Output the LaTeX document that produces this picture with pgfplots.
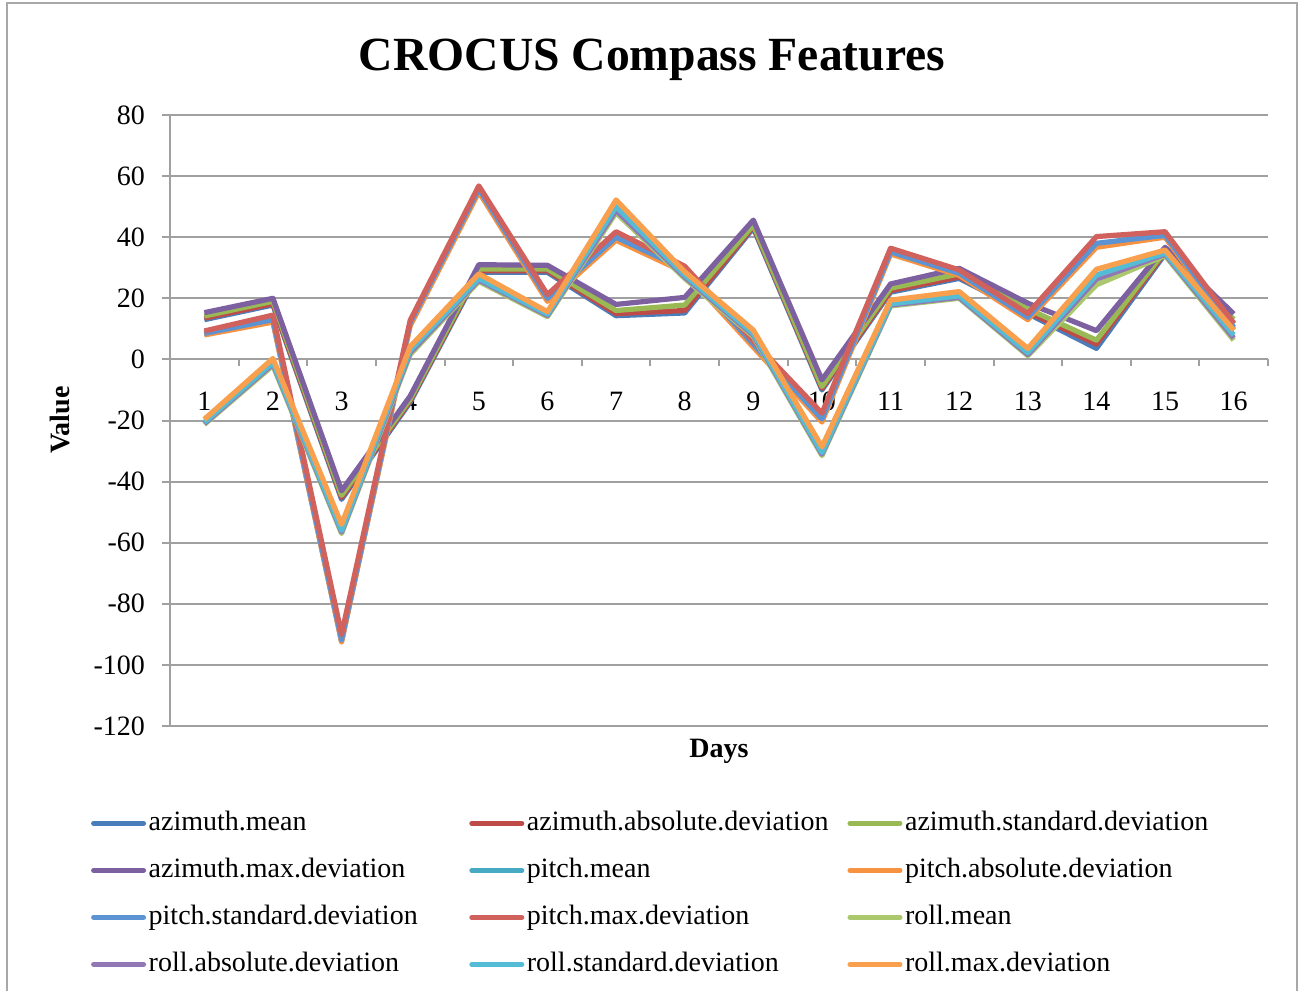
\documentclass[border=0pt]{standalone}
\usepackage{pgfplots}
\pgfplotsset{compat=1.18}
\usepackage{pgfplotstable}
\usepackage{fontspec}
\setmainfont{Liberation Serif}

\definecolor{gridgray}{HTML}{A0A0A0}
\definecolor{frame}{HTML}{A8A8A8}
\definecolor{s1}{HTML}{4A7EBB}
\definecolor{s2}{HTML}{BE4B48}
\definecolor{s3}{HTML}{98B954}
\definecolor{s4}{HTML}{7D60A0}
\definecolor{s5}{HTML}{46AAC5}
\definecolor{s6}{HTML}{F69240}
\definecolor{s7}{HTML}{5B93D3}
\definecolor{s8}{HTML}{D0615D}
\definecolor{s9}{HTML}{ABC86D}
\definecolor{s10}{HTML}{9277B5}
\definecolor{s11}{HTML}{55BCD5}
\definecolor{s12}{HTML}{F9A04F}

% day, azimuth (mean, abs, std, max), pitch (...), roll (...)
\pgfplotstableread{
day amean aabs astd amax pmean pabs pstd pmax rmean rabs rstd rmax
1  13.0 13.5 14.2 15.3   8.2   8.0   8.5   9.3  -21.3 -21.0 -20.6 -19.6
2  17.8 18.2 19.0 20.0  12.5  12.2  13.0  14.5   -2.0  -1.5  -1.0   0.3
3 -45.8 -45.2 -44.5 -43.0 -92.2 -92.5 -91.8 -90.0 -57.0 -56.5 -56.0 -54.0
4 -14.0 -13.5 -13.0 -12.0 11.5  11.0  12.0  12.8    1.6   2.2   3.0   4.2
5  28.5 29.0 29.6 31.0  55.2  54.8  55.8  56.8   25.5  26.0  26.5  28.0
6  28.5 29.0 29.6 30.8  19.5  19.0  20.0  21.2   14.0  14.4  14.8  15.6
7  14.3 15.0 16.0 18.0  39.5  39.0  40.0  41.8   48.0  48.8  50.0  52.2
8  15.2 16.0 17.8 20.3  29.0  28.5  29.5  30.5   26.5  27.0  27.6  28.7
9  43.0 43.5 44.0 45.6   4.5   4.0   5.0   6.0    7.5   8.0   8.5   9.6
10 -10.0 -9.5 -8.9 -6.7 -20.0 -20.5 -19.5 -17.6 -31.5 -31.0 -30.5 -28.6
11 22.0 22.5 23.3 24.7  34.8  34.5  35.2  36.4   17.5  17.8  18.2  19.4
12 26.5 27.0 28.0 29.8  27.8  27.5  28.2  29.3   20.0  20.3  20.8  22.2
13 15.0 15.5 16.5 18.4  13.4  13.0  13.8  15.0    1.2   1.6   2.2   3.6
14  3.6  5.0  6.3  9.4  37.2  36.7  38.0  40.2   24.4  26.3  27.6  29.5
15 34.5 35.0 35.5 36.7  40.2  40.0  40.6  41.8   34.0  34.4  34.8  35.8
16 11.5 12.0 13.1 14.9  10.0   9.5  10.5  11.8    6.3   7.0   8.0   9.6
}\crocus

\newcommand{\legtext}[1]{\makebox[159pt][l]{#1}}

\begin{document}
\begin{tikzpicture}
\useasboundingbox (0,0) rectangle (652pt,495.5pt);
\draw[frame, line width=1pt] (3.5pt,0) -- (3.5pt,494pt) -- (648.5pt,494pt) -- (648.5pt,0);
\begin{axis}[
  at={(85pt,132.5pt)}, anchor=south west,
  scale only axis, width=549pt, height=305.5pt,
  xmin=0.5, xmax=16.5, ymin=-120, ymax=80,
  axis x line=middle, axis y line=left,
  axis line style={-, draw=gridgray, line width=1pt},
  tick align=outside,
  major tick length=4pt, minor tick length=3.5pt,
  tick style={gridgray, line width=1pt},
  xtick={1,...,16},
  xticklabels={1,2,3,4,5,6,7,8,9,10,11,12,13,14,15,16},
  every major x tick/.append style={draw=none},
  minor xtick={0.5,1.5,...,16.5},
  ytick={-120,-100,...,80},
  yticklabels={-120,-100,-80,-60,-40,-20,0,20,40,60,80},
  ticklabel style={font=\fontsize{14}{16}\selectfont},
  xticklabel style={anchor=center, yshift=-17pt},
  yticklabel style={xshift=-5pt},
  ymajorgrids,
  major grid style={gridgray, line width=1pt},
  title={CROCUS Compass Features},
  title style={at={(axis description cs:0.439,1.0704)}, anchor=center,
    font=\fontsize{23.8}{27}\selectfont\bfseries},
  xlabel={Days},
  every axis x label/.style={at={(axis description cs:0.5,-0.041)}, anchor=center,
    font=\fontsize{14}{16}\selectfont\bfseries},
  ylabel={Value},
  every axis y label/.style={at={(axis description cs:-0.1002,0.5008)}, anchor=center,
    rotate=90, font=\fontsize{14}{16}\selectfont\bfseries},
  clip=false,
  legend columns=3,
  legend cell align=left,
  legend style={at={(axis description cs:-0.0746,-0.1375)}, anchor=north west,
    draw=none, fill=none, inner sep=0pt, row sep=10.5pt,
    font=\fontsize{14}{16}\selectfont,
    nodes={inner sep=0pt, text height=10pt, text depth=3pt},
    /tikz/every odd column/.append style={column sep=0pt}},
  legend image code/.code={
    \path (0pt,0pt) (27.5pt,0pt);
    \draw[#1, line width=2.5pt, line cap=round] (1.25pt,0pt) -- (26.25pt,0pt);},
  every axis plot/.append style={line width=2.6pt, line join=round, mark=none},
]
\addplot[s1] table[x=day, y=amean] {\crocus};
\addlegendentry{\legtext{azimuth.mean}}
\addplot[s2] table[x=day, y=aabs] {\crocus};
\addlegendentry{\legtext{azimuth.absolute.deviation}}
\addplot[s3] table[x=day, y=astd] {\crocus};
\addlegendentry{\legtext{azimuth.standard.deviation}}
\addplot[s4] table[x=day, y=amax] {\crocus};
\addlegendentry{\legtext{azimuth.max.deviation}}
\addplot[s5] table[x=day, y=pmean] {\crocus};
\addlegendentry{\legtext{pitch.mean}}
\addplot[s6] table[x=day, y=pabs] {\crocus};
\addlegendentry{\legtext{pitch.absolute.deviation}}
\addplot[s7] table[x=day, y=pstd] {\crocus};
\addlegendentry{\legtext{pitch.standard.deviation}}
\addplot[s8] table[x=day, y=pmax] {\crocus};
\addlegendentry{\legtext{pitch.max.deviation}}
\addplot[s9] table[x=day, y=rmean] {\crocus};
\addlegendentry{\legtext{roll.mean}}
\addplot[s10] table[x=day, y=rabs] {\crocus};
\addlegendentry{\legtext{roll.absolute.deviation}}
\addplot[s11] table[x=day, y=rstd] {\crocus};
\addlegendentry{\legtext{roll.standard.deviation}}
\addplot[s12] table[x=day, y=rmax] {\crocus};
\addlegendentry{\legtext{roll.max.deviation}}
\end{axis}
\end{tikzpicture}
\end{document}
